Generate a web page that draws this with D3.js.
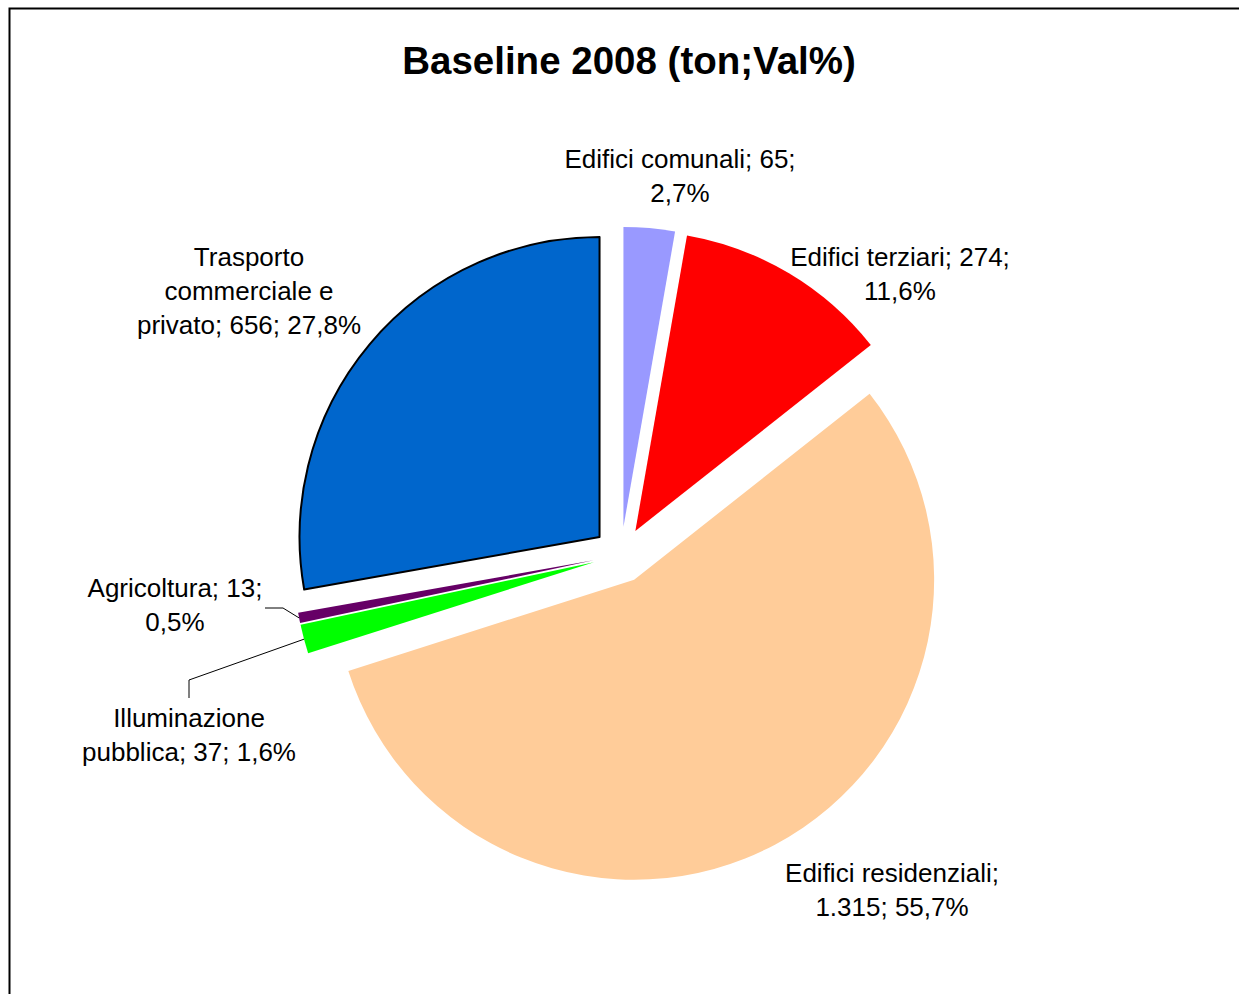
<!DOCTYPE html>
<html>
<head>
<meta charset="utf-8">
<script src="https://cdn.jsdelivr.net/npm/d3@7/dist/d3.min.js"></script>
<style>
  body { margin: 0; background: #fff; }
  text { font-family: "Liberation Sans", Arial, sans-serif; fill: #000; }
  .title { font-size: 38.5px; font-weight: bold; }
  .label { font-size: 26px; }
</style>
</head>
<body>
<div id="chart"></div>
<script>

//data
var categories = ["Edifici comunali", "Edifici terziari", "Edifici residenziali",
                  "Illuminazione pubblica", "Agricoltura", "Trasporto commerciale e privato"];
var values = [65, 274, 1315, 37, 13, 656];
var percents = [2.7, 11.6, 55.7, 1.6, 0.5, 27.8];
var colors = ["#9999ff", "#ff0000", "#ffcc99", "#00ff00", "#660066", "#0066cc"];

//label layout (words per line, centre x, first baseline)
var labelWrap = [[3, 1], [3, 1], [2, 2], [1, 3], [2, 1], [1, 2, 3]];
var labelPos = [[680, 168], [900, 266], [892, 882], [189, 727], [175, 597], [249, 266]];
var lineGap = 34;

var width = 1239, height = 994;
var cx = 621, cy = 555, radius = 300, explode = 28;

var it = d3.formatLocale({decimal: ",", thousands: ".", grouping: [3], currency: ["", "€"]});
var fmtInt = it.format(",d");
var fmtPct = it.format(".1f");

var dataset = categories.map(function(c, i) {
  return {name: c, value: values[i], pct: percents[i], color: colors[i], i: i};
});

var svg = d3.select("#chart")
  .append("svg")
  .attr("width", width)
  .attr("height", height);

//frame
svg.append("rect")
  .attr("x", 9.5)
  .attr("y", 8.5)
  .attr("width", 1400)
  .attr("height", 1200)
  .style("fill", "#fff")
  .style("stroke", "#000")
  .style("stroke-width", 2);

//title
svg.append("text")
  .attr("class", "title")
  .attr("x", 629)
  .attr("y", 74)
  .style("text-anchor", "middle")
  .text("Baseline 2008 (ton;Val%)");

var pie = d3.pie()
  .sort(null)
  .value(function(d) { return d.value; });

var arc = d3.arc()
  .innerRadius(0)
  .outerRadius(radius);

var arcs = pie(dataset);

function offset(d, dist) {
  var a = (d.startAngle + d.endAngle) / 2;
  return [dist * Math.sin(a), -dist * Math.cos(a)];
}

var g = svg.append("g")
  .attr("transform", "translate(" + cx + "," + cy + ")");

//slices
g.selectAll(".slice")
  .data(arcs)
  .enter()
  .append("path")
  .attr("class", "slice")
  .attr("d", arc)
  .attr("transform", function(d) {
    var o = offset(d, explode);
    return "translate(" + o[0] + "," + o[1] + ")";
  })
  .style("fill", function(d) { return d.data.color; })
  .style("stroke", function(d) { return d.data.i == 5 ? "#000" : "none"; })
  .style("stroke-width", 2)
  .style("stroke-linejoin", "round");

//leader lines for the two thin slices
var elbows = {3: [[189, 698], [189, 680]], 4: [[265, 608], [283, 608]]};

Object.keys(elbows).forEach(function(k) {
  var d = arcs[+k];
  var o = offset(d, explode + radius);
  var pts = elbows[k].concat([[cx + o[0], cy + o[1]]]);
  svg.append("path")
    .attr("d", d3.line()(pts))
    .style("fill", "none")
    .style("stroke", "#000")
    .style("stroke-width", 1);
});

//labels
dataset.forEach(function(d, i) {
  var full = d.name + "; " + fmtInt(d.value) + "; " + fmtPct(d.pct) + "%";
  var words = full.split(" ");
  var lines = [], k = 0;
  labelWrap[i].forEach(function(n) {
    lines.push(words.slice(k, k + n).join(" "));
    k += n;
  });

  var t = svg.append("text")
    .attr("class", "label")
    .attr("x", labelPos[i][0])
    .attr("y", labelPos[i][1])
    .style("text-anchor", "middle");

  lines.forEach(function(line, j) {
    t.append("tspan")
      .attr("x", labelPos[i][0])
      .attr("y", labelPos[i][1] + j * lineGap)
      .text(line);
  });
});

</script>
</body>
</html>
